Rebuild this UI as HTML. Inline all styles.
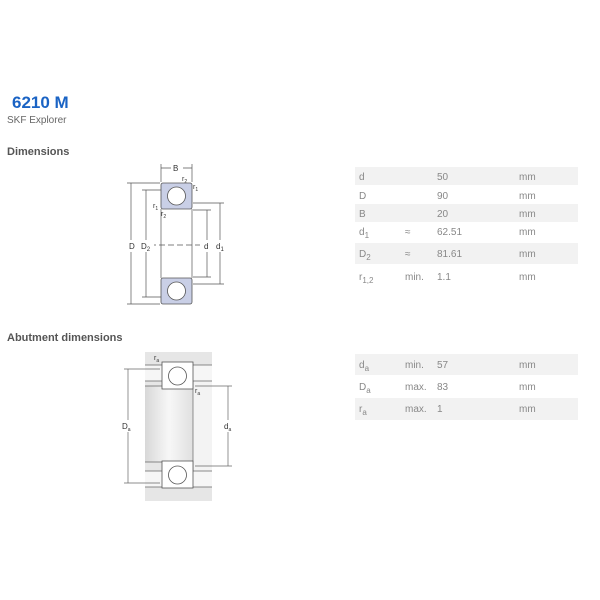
<!DOCTYPE html>
<html><head><meta charset="utf-8"><style>
body{margin:0;width:600px;height:600px;background:#fff;font-family:"Liberation Sans",sans-serif;position:relative;overflow:hidden}
.a{position:absolute;white-space:nowrap}
.t{font-size:10px;color:#888;margin-top:2px}
.r{position:absolute;left:355px;width:223px}
.s{background:#f2f2f2}
</style></head><body>
<div class="a" style="left:12px;top:93px;font-size:17px;font-weight:bold;color:#1a63c4">6210 M</div>
<div class="a" style="left:7px;top:115px;font-size:10px;color:#666">SKF Explorer</div>
<div class="a" style="left:7px;top:146px;font-size:11px;font-weight:bold;color:#555">Dimensions</div>
<div class="a" style="left:7px;top:332px;font-size:11px;font-weight:bold;color:#555">Abutment dimensions</div>

<div class="r s" style="top:167px;height:18px"></div>
<div class="r s" style="top:204px;height:18px"></div>
<div class="r s" style="top:243px;height:21px"></div>
<div class="r s" style="top:354px;height:21px"></div>
<div class="r s" style="top:398px;height:22px"></div>

<div class="a t" style="left:359px;top:170px">d</div><div class="a t" style="left:437px;top:170px">50</div><div class="a t" style="left:519px;top:170px">mm</div>
<div class="a t" style="left:359px;top:189px">D</div><div class="a t" style="left:437px;top:189px">90</div><div class="a t" style="left:519px;top:189px">mm</div>
<div class="a t" style="left:359px;top:207px">B</div><div class="a t" style="left:437px;top:207px">20</div><div class="a t" style="left:519px;top:207px">mm</div>
<div class="a t" style="left:359px;top:225px">d<sub style="font-size:8px">1</sub></div><div class="a t" style="left:405px;top:225px">≈</div><div class="a t" style="left:437px;top:225px">62.51</div><div class="a t" style="left:519px;top:225px">mm</div>
<div class="a t" style="left:359px;top:247px">D<sub style="font-size:8px">2</sub></div><div class="a t" style="left:405px;top:247px">≈</div><div class="a t" style="left:437px;top:247px">81.61</div><div class="a t" style="left:519px;top:247px">mm</div>
<div class="a t" style="left:359px;top:270px">r<sub style="font-size:8px">1,2</sub></div><div class="a t" style="left:405px;top:270px">min.</div><div class="a t" style="left:437px;top:270px">1.1</div><div class="a t" style="left:519px;top:270px">mm</div>

<div class="a t" style="left:359px;top:358px">d<sub style="font-size:8px">a</sub></div><div class="a t" style="left:405px;top:358px">min.</div><div class="a t" style="left:437px;top:358px">57</div><div class="a t" style="left:519px;top:358px">mm</div>
<div class="a t" style="left:359px;top:380px">D<sub style="font-size:8px">a</sub></div><div class="a t" style="left:405px;top:380px">max.</div><div class="a t" style="left:437px;top:380px">83</div><div class="a t" style="left:519px;top:380px">mm</div>
<div class="a t" style="left:359px;top:402px">r<sub style="font-size:8px">a</sub></div><div class="a t" style="left:405px;top:402px">max.</div><div class="a t" style="left:437px;top:402px">1</div><div class="a t" style="left:519px;top:402px">mm</div>

<svg class="a" style="left:0;top:0" width="600" height="600" font-family="Liberation Sans" font-size="8" fill="#333">
<defs><linearGradient id="g" x1="0" y1="0" x2="1" y2="0"><stop offset="0" stop-color="#d8d8d8"/><stop offset=".5" stop-color="#f7f7f7"/><stop offset="1" stop-color="#e0e0e0"/></linearGradient></defs>
<g stroke="#555" stroke-width=".7" fill="none">
<line x1="161" y1="209" x2="161" y2="278"/><line x1="192" y1="209" x2="192" y2="278"/>
<line x1="161" y1="164" x2="161" y2="182"/><line x1="192" y1="164" x2="192" y2="182"/>
<line x1="161" y1="168" x2="192" y2="168"/>
<line x1="127" y1="183" x2="160" y2="183"/><line x1="127" y1="304" x2="160" y2="304"/>
<line x1="131" y1="183" x2="131" y2="304"/>
<line x1="142" y1="190" x2="161" y2="190"/><line x1="142" y1="297" x2="161" y2="297"/>
<line x1="146" y1="190" x2="146" y2="297"/>
<line x1="193" y1="210" x2="211" y2="210"/><line x1="193" y1="277" x2="211" y2="277"/>
<line x1="207" y1="210" x2="207" y2="277"/>
<line x1="193" y1="203" x2="224" y2="203"/><line x1="193" y1="284" x2="224" y2="284"/>
<line x1="220" y1="203" x2="220" y2="284"/>
<line x1="150" y1="245" x2="200" y2="245" stroke-dasharray="6,3"/>
</g>
<g stroke="#555" stroke-width=".8">
<rect x="161" y="183" width="31" height="26" rx="2" fill="#c9cfe6"/>
<rect x="161" y="278" width="31" height="26" rx="2" fill="#c9cfe6"/>
<circle cx="176.5" cy="196" r="9" fill="#fff"/>
<circle cx="176.5" cy="291" r="9" fill="#fff"/>
</g>
<g fill="#fff" stroke="none"><rect x="128" y="240" width="8" height="12"/><rect x="140" y="240" width="14" height="12"/><rect x="203" y="240" width="8" height="12"/><rect x="216" y="240" width="10" height="12"/><rect x="171" y="164" width="12" height="9"/></g>
<text x="173" y="171">B</text>
<text x="129" y="249">D</text><text x="141" y="249">D<tspan font-size="6" dy="2">2</tspan></text>
<text x="204" y="249">d</text><text x="216" y="249">d<tspan font-size="6" dy="2">1</tspan></text>
<text x="182" y="181" font-size="7">r<tspan font-size="5" dy="2">2</tspan></text>
<text x="193" y="189" font-size="7">r<tspan font-size="5" dy="2">1</tspan></text>
<text x="153" y="208" font-size="7">r<tspan font-size="5" dy="2">1</tspan></text>
<text x="161" y="216" font-size="7">r<tspan font-size="5" dy="2">2</tspan></text>

<rect x="145" y="352" width="67" height="149" fill="#e6e6e6"/>
<rect x="145" y="365" width="67" height="16" fill="#f6f6f6"/>
<rect x="145" y="471" width="67" height="16" fill="#f6f6f6"/>
<rect x="145" y="386" width="48" height="76" fill="url(#g)"/>
<rect x="193" y="381" width="19" height="90" fill="#f3f3f3"/>
<g stroke="#666" stroke-width=".7" fill="none">
<line x1="145" y1="365" x2="212" y2="365"/><line x1="145" y1="381" x2="212" y2="381"/>
<line x1="145" y1="386" x2="193" y2="386"/><line x1="145" y1="462" x2="193" y2="462"/>
<line x1="145" y1="471" x2="212" y2="471"/><line x1="145" y1="487" x2="212" y2="487"/>
<line x1="193" y1="381" x2="193" y2="471"/>
<line x1="124" y1="369" x2="160" y2="369"/><line x1="124" y1="483" x2="160" y2="483"/>
<line x1="128" y1="369" x2="128" y2="483"/>
<line x1="195" y1="386" x2="232" y2="386"/><line x1="195" y1="466" x2="232" y2="466"/>
<line x1="228" y1="386" x2="228" y2="466"/>
</g>
<g stroke="#555" stroke-width=".8" fill="#fff">
<rect x="162" y="362" width="31" height="27"/>
<rect x="162" y="461" width="31" height="27"/>
<circle cx="177.5" cy="376" r="9"/>
<circle cx="177.5" cy="475" r="9"/>
</g>
<rect x="121" y="420" width="12" height="12" fill="#fff"/><rect x="223" y="420" width="11" height="12" fill="#fff"/>
<text x="122" y="429">D<tspan font-size="5" dy="2">a</tspan></text>
<text x="224" y="429">d<tspan font-size="5" dy="2">a</tspan></text>
<text x="154" y="360" font-size="7">r<tspan font-size="5" dy="2">a</tspan></text>
<text x="195" y="393" font-size="7">r<tspan font-size="5" dy="2">a</tspan></text>
</svg>
</body></html>
